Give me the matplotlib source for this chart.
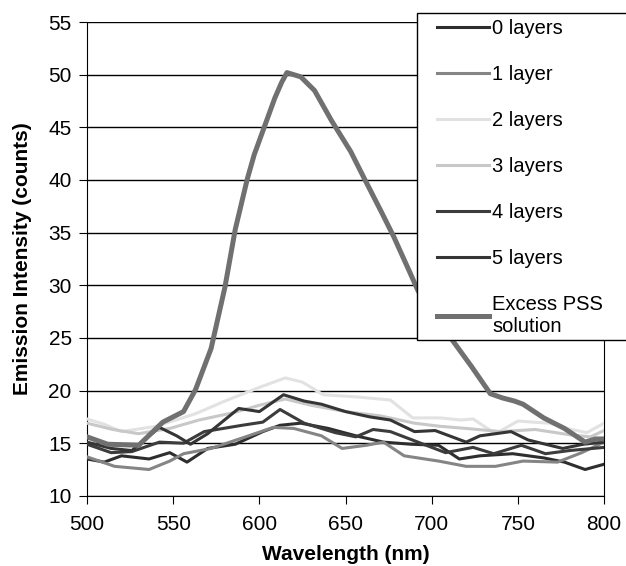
import matplotlib.pyplot as plt
from matplotlib.lines import Line2D
from matplotlib.patches import Rectangle

plt.rcParams["font.family"] = ["Liberation Sans", "DejaVu Sans"]

# values
wl_0 = [500, 510, 520, 536, 548, 558, 570, 586, 602, 612, 624, 640, 656, 672, 688, 704, 716, 728, 747, 765, 777, 789, 800]
em_0 = [13.5, 13.2, 13.8, 13.5, 14.1, 13.2, 14.5, 14.9, 16.1, 16.7, 16.9, 16.4, 15.7, 15.1, 14.9, 14.8, 13.5, 13.8, 14.0, 13.6, 13.2, 12.5, 13.0]

wl_1 = [500, 516, 536, 548, 556, 572, 592, 608, 620, 636, 648, 662, 672, 684, 704, 720, 737, 753, 773, 787, 800]
em_1 = [13.7, 12.8, 12.5, 13.3, 14.0, 14.5, 15.6, 16.5, 16.4, 15.7, 14.5, 14.8, 15.1, 13.8, 13.3, 12.8, 12.8, 13.3, 13.2, 14.1, 15.1]

wl_2 = [500, 510, 520, 540, 563, 580, 600, 615, 625, 637, 656, 676, 689, 705, 717, 724, 737, 750, 768, 781, 790, 800]
em_2 = [17.3, 16.8, 16.1, 16.6, 17.8, 19.0, 20.3, 21.2, 20.8, 19.6, 19.4, 19.1, 17.4, 17.4, 17.2, 17.3, 15.9, 17.1, 16.9, 16.3, 16.0, 16.9]

wl_3 = [500, 515, 530, 548, 565, 585, 600, 615, 630, 650, 670, 690, 705, 720, 740, 760, 780, 792, 800]
em_3 = [16.9, 16.3, 15.9, 16.4, 17.2, 17.9, 18.6, 19.2, 18.6, 18.0, 17.6, 16.9, 16.6, 16.4, 16.1, 16.3, 15.8, 15.6, 16.2]

wl_4 = [500, 514, 526, 542, 556, 568, 590, 602, 612, 626, 644, 656, 666, 676, 692, 708, 724, 736, 752, 766, 780, 800]
em_4 = [14.9, 14.1, 14.2, 15.1, 15.0, 16.1, 16.7, 17.0, 18.2, 16.9, 16.0, 15.6, 16.3, 16.1, 15.1, 14.1, 14.6, 14.0, 14.8, 14.0, 14.3, 14.6]

wl_5 = [500, 514, 526, 542, 552, 560, 570, 588, 600, 614, 626, 636, 650, 664, 676, 690, 702, 720, 728, 746, 756, 776, 788, 800]
em_5 = [15.1, 14.5, 14.3, 16.5, 15.7, 14.9, 15.9, 18.3, 18.0, 19.6, 19.0, 18.7, 18.0, 17.5, 17.2, 16.1, 16.2, 15.1, 15.7, 16.1, 15.3, 14.5, 14.9, 15.1]

wl_pss = [500, 512, 530, 544, 556, 563, 572, 580, 586, 593, 597, 603, 609, 613, 616, 624, 632, 642, 653, 661, 671, 678, 686, 692, 700, 711, 723, 734, 741, 748, 753, 765, 777, 789, 795, 800]
em_pss = [15.6, 14.9, 14.8, 17.0, 18.0, 20.1, 24.0, 29.8, 35.3, 40.1, 42.4, 45.1, 47.8, 49.3, 50.2, 49.8, 48.5, 45.6, 42.7, 40.1, 36.9, 34.6, 31.7, 29.5, 27.4, 25.0, 22.3, 19.7, 19.3, 19.0, 18.7, 17.4, 16.4, 15.1, 15.4, 15.4]

labels = ["0 layers", "1 layer", "2 layers", "3 layers", "4 layers", "5 layers", "Excess PSS\nsolution"]
colors = ["#2e2e2e", "#858585", "#e2e2e2", "#c8c8c8", "#3c3c3c", "#353535", "#707070"]
widths = [2.2, 2.2, 2.2, 2.2, 2.2, 2.2, 3.6]

series = [(wl_0, em_0), (wl_1, em_1), (wl_2, em_2), (wl_3, em_3), (wl_4, em_4), (wl_5, em_5), (wl_pss, em_pss)]

fig = plt.figure(figsize=(6.26, 5.66), dpi=100)
ax = fig.add_axes([0.139, 0.124, 0.826, 0.837])

for (x, y), c, lw in zip(series, colors, widths):
    ax.plot(x, y, color=c, lw=lw, solid_joinstyle="round", zorder=3)

ax.set_xlim(500, 800)
ax.set_ylim(10, 55)
ax.set_xticks(range(500, 801, 50))
ax.set_yticks(range(10, 56, 5))
ax.yaxis.grid(True, color="black", lw=1)
ax.set_axisbelow(True)
ax.tick_params(labelsize=15, direction="out", length=6, color="black")
ax.tick_params(axis="x", pad=8)
ax.tick_params(axis="y", pad=5)
for s in ax.spines.values():
    s.set_color("black")
ax.spines["top"].set_visible(False)
ax.set_xlabel("Wavelength (nm)", fontsize=15, fontweight="bold", labelpad=8)
ax.set_ylabel("Emission Intensity (counts)", fontsize=15, fontweight="bold", labelpad=12)

# legend box runs past the right edge of the figure
fig.patches.append(Rectangle((0.666, 0.399), 0.5, 0.578, transform=fig.transFigure,
                             facecolor="white", edgecolor="black", lw=1, zorder=5))
handles = [Line2D([], [], color=c, lw=lw) for c, lw in zip(colors, widths)]
leg = fig.legend(handles, labels, loc="upper left", bbox_to_anchor=(0.666, 1.002),
                 fontsize=14.5, handlelength=2.6, handletextpad=0.15, labelspacing=1.34,
                 borderpad=1.0, borderaxespad=0, frameon=False)
leg.set_zorder(6)

fig.savefig("out.png", dpi=100)
